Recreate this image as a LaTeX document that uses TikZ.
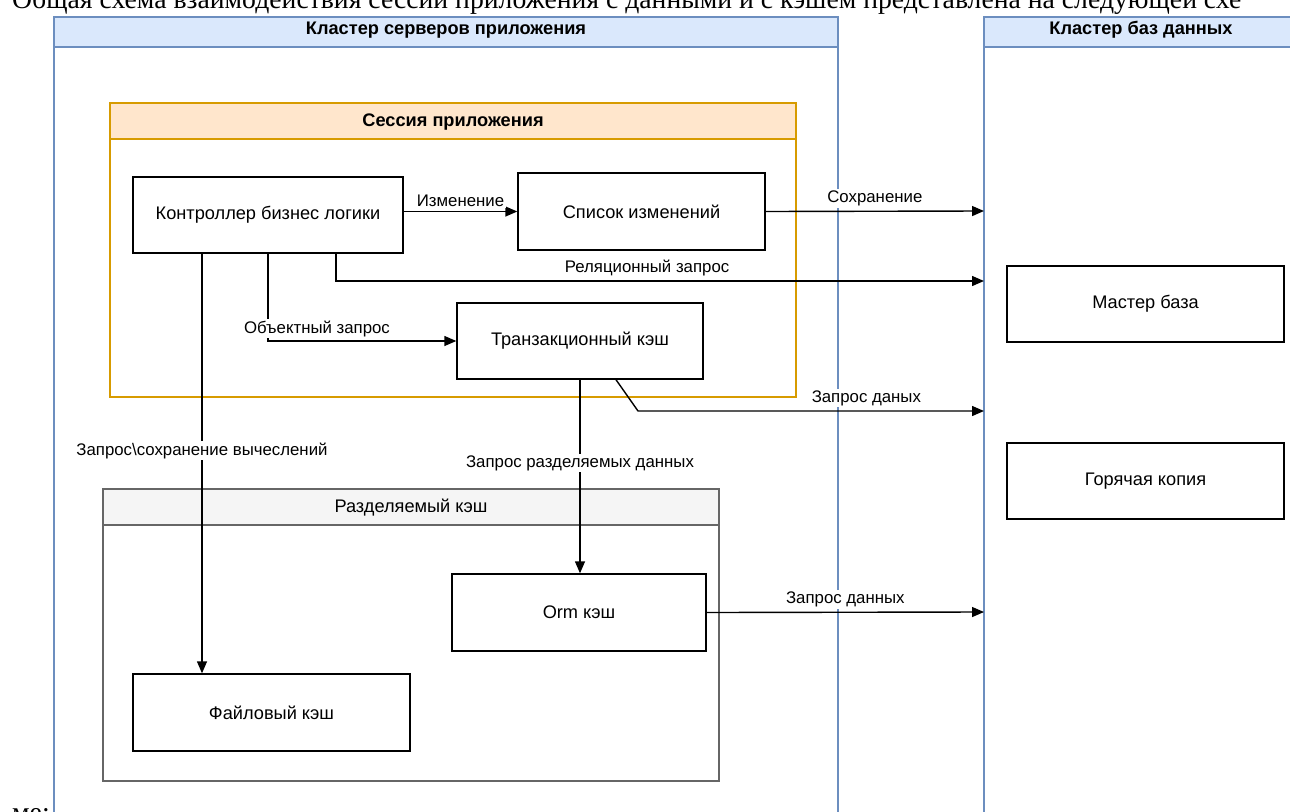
\documentclass[tikz,border=0pt]{standalone}
\usepackage{fontspec}
\setmainfont{Liberation Serif}
\setsansfont{Liberation Sans}
\usetikzlibrary{arrows.meta,positioning}

\definecolor{clusterblue}{HTML}{6C8EBF}
\definecolor{clusterfill}{HTML}{DAE8FC}
\definecolor{sessionline}{HTML}{D79B00}
\definecolor{sessionfill}{HTML}{FFE6CC}
\definecolor{sharedline}{HTML}{666666}
\definecolor{sharedfill}{HTML}{F5F5F5}

\begin{document}
\begin{tikzpicture}[x=1pt,y=-1pt,>={Triangle[length=12pt,width=10pt]},
  block/.style={draw,line width=1.4pt,inner sep=0pt,font=\sffamily\fontsize{18.2}{21}\selectfont},
  flow/.style={->,line width=1.4pt},
  lbl/.style={fill=white,inner sep=1.5pt,font=\sffamily\fontsize{16.8}{19}\selectfont},
  head/.style={font=\sffamily\bfseries\fontsize{18.2}{21}\selectfont},
  pagetext/.style={anchor=base west,inner sep=0pt,font=\fontsize{27.7}{32}\selectfont}]
  \useasboundingbox (0,0) rectangle (1290,811);
  \clip (0,0) rectangle (1290,811);
  % Page text around the picture
  \node[pagetext] (intro) at (12,9) {Общая схема взаимодействия сессии приложения с данными и с кэшем представлена на следующей схе};
  \node[pagetext] (introend) at (12,821) {ме:};
  % Application server cluster
  \draw[clusterblue,line width=1.3pt] (54,17) rectangle (838,840);
  \draw[clusterblue,line width=1.3pt,fill=clusterfill] (54,17) rectangle (838,47);
  \node[head] (appcluster) at (446,30) {Кластер серверов приложения};
  % Database cluster
  \draw[clusterblue,line width=1.3pt] (984,17) rectangle (1298,840);
  \draw[clusterblue,line width=1.3pt,fill=clusterfill] (984,17) rectangle (1298,47);
  \node[head] (dbcluster) at (1141,30) {Кластер баз данных};
  % Application session
  \draw[sessionline,line width=1.3pt] (110,103) rectangle (796,397);
  \draw[sessionline,line width=1.3pt,fill=sessionfill] (110,103) rectangle (796,139);
  \node[head] (session) at (453,122) {Сессия приложения};
  % Shared cache
  \draw[sharedline,line width=1.3pt] (103,489) rectangle (719,781);
  \draw[sharedline,line width=1.3pt,fill=sharedfill] (103,489) rectangle (719,525);
  \node[font=\sffamily\fontsize{18.2}{21}\selectfont] (shared) at (411,508) {Разделяемый кэш};
  % Boxes
  \node[block,minimum width=270pt,minimum height=76pt] (ctrl) at (268,215) {Контроллер бизнес логики};
  \node[block,minimum width=247pt,minimum height=77pt] (changes) at (641.5,211.5) {Список изменений};
  \node[block,minimum width=246pt,minimum height=76pt] (txcache) at (580,341) {Транзакционный кэш};
  \node[block,minimum width=277pt,minimum height=76pt] (master) at (1145.5,304) {Мастер база};
  \node[block,minimum width=277pt,minimum height=76pt] (hotcopy) at (1145.5,481) {Горячая копия};
  \node[block,minimum width=254pt,minimum height=77pt] (ormcache) at (579,612.5) {Orm кэш};
  \node[block,minimum width=277pt,minimum height=77pt] (filecache) at (271.5,712.5) {Файловый кэш};
  % Arrow ends on the database cluster
  \coordinate (dbsave) at (984,211);
  \coordinate (dbrel) at (984,281);
  \coordinate (dbtx) at (984,411);
  \coordinate (dborm) at (984,612);
  \coordinate (txbend) at (638,411);
  % Connectors
  \draw[flow] (ctrl.east |- changes) -- node[lbl,above=3pt] {Изменение} (changes.west);
  \draw[flow] (changes.east) -- node[lbl,above=3pt] {Сохранение} (dbsave);
  \draw[flow] ([xshift=68pt]ctrl.south) |- node[lbl,pos=0.74,above=3pt] {Реляционный запрос} (dbrel);
  \draw[flow] (ctrl.south) |- node[lbl,pos=0.63,above=2pt] {Объектный запрос} (txcache.west);
  \draw[flow] ([xshift=-66pt]ctrl.south) -- node[lbl,pos=0.47] {Запрос\textbackslash сохранение вычеслений} ([xshift=-66pt]ctrl.south |- filecache.north);
  \draw[flow] (txcache.south) -- node[lbl,pos=0.43] {Запрос разделяемых данных} (txcache.south |- ormcache.north);
  \draw[flow] ([xshift=36pt]txcache.south) -- (txbend) -- node[lbl,pos=0.66,above=3pt] {Запрос даных} (dbtx);
  \draw[flow] (ormcache.east) -- node[lbl,above=3pt] {Запрос данных} (dborm);
\end{tikzpicture}
\end{document}
